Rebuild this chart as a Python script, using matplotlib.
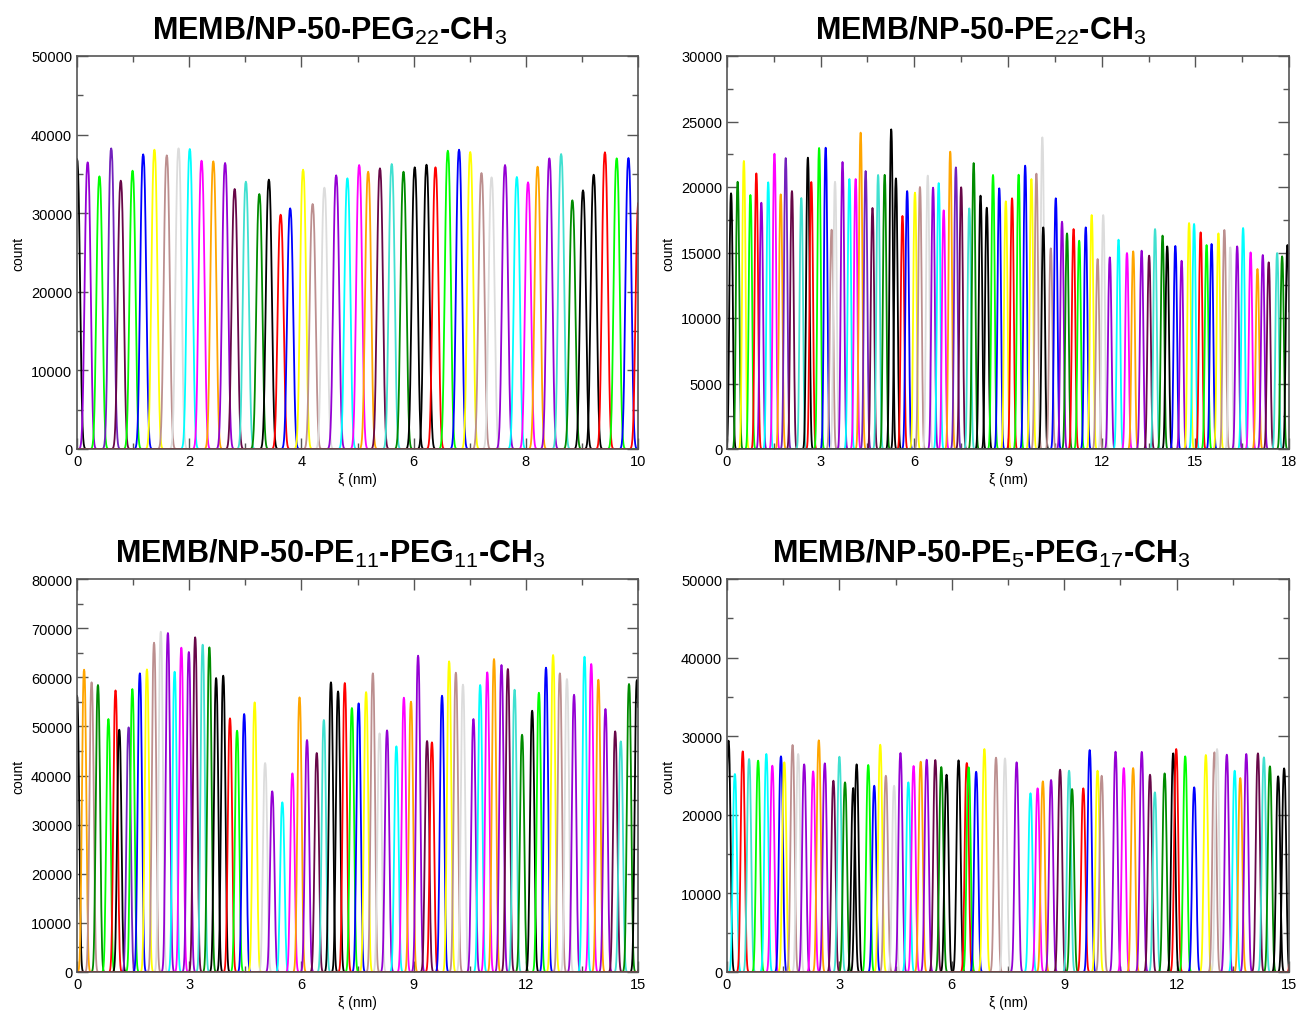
import numpy as np
import matplotlib.pyplot as plt
from matplotlib.ticker import MultipleLocator

plt.rcParams['font.family'] = ['Liberation Sans', 'DejaVu Sans']
plt.rcParams['mathtext.fontset'] = 'custom'
plt.rcParams['mathtext.rm'] = 'Liberation Sans'
plt.rcParams['mathtext.default'] = 'rm'

# xmgrace default palette
pal = {
    'k': '#000000', 'r': '#ff0000', 'g': '#00ff00', 'b': '#0000ff',
    'y': '#ffff00', 'br': '#bc8f8f', 'gr': '#dcdcdc', 'v': '#9400d3',
    'c': '#00ffff', 'm': '#ff00ff', 'o': '#ffa500', 'i': '#7221bc',
    'mr': '#670748', 't': '#40e0d0', 'g4': '#008b00',
}

# umbrella windows: histogram peak position (nm), peak count, colour
centers_peg22 = [0.00, 0.19, 0.40, 0.61, 0.78, 0.99, 1.18, 1.38, 1.60, 1.81,
                 2.01, 2.22, 2.43, 2.64, 2.81, 3.01, 3.25, 3.42, 3.63, 3.80,
                 4.03, 4.20, 4.41, 4.62, 4.82, 5.03, 5.19, 5.40, 5.61, 5.82,
                 6.02, 6.23, 6.39, 6.61, 6.81, 7.01, 7.21, 7.39, 7.63, 7.84,
                 8.04, 8.21, 8.42, 8.63, 8.83, 9.02, 9.21, 9.41, 9.62, 9.83,
                 10.01]
heights_peg22 = [36900, 36470, 34690, 38250, 34140, 35410, 37490, 38080, 37360, 38250,
                 38170, 36680, 36600, 36390, 33080, 34010, 32440, 34270, 29810, 30620,
                 35540, 31170, 33250, 34820, 34440, 36130, 35280, 35710, 36260, 35280,
                 35840, 36170, 35840, 37950, 38080, 37790, 35110, 34560, 36130, 34610,
                 33930, 35920, 36980, 37530, 31640, 32910, 34900, 37750, 36980, 37020,
                 31500]
colors_peg22 = ['k', 'v', 'g', 'i', 'mr', 'g', 'b', 'y', 'br', 'gr',
                'c', 'm', 'o', 'v', 'mr', 't', 'g4', 'k', 'r', 'b',
                'y', 'br', 'gr', 'v', 'c', 'm', 'o', 'mr', 't', 'g4',
                'k', 'k', 'r', 'g', 'b', 'y', 'br', 'gr', 'v', 'c',
                'm', 'o', 'v', 't', 'g4', 'k', 'k', 'r', 'g', 'b',
                'r']

centers_pe22 = [0.13, 0.34, 0.54, 0.75, 0.94, 1.10, 1.32, 1.52, 1.72, 1.88,
                2.08, 2.38, 2.59, 2.70, 2.95, 3.16, 3.35, 3.46, 3.70, 3.92,
                4.12, 4.28, 4.44, 4.66, 4.84, 5.05, 5.26, 5.41, 5.62, 5.77,
                6.02, 6.18, 6.43, 6.60, 6.78, 6.94, 7.15, 7.33, 7.50, 7.76,
                7.90, 8.12, 8.32, 8.52, 8.72, 8.93, 9.13, 9.34, 9.55, 9.75,
                9.91, 10.10, 10.13, 10.37, 10.53, 10.73, 10.89, 11.10, 11.28, 11.49,
                11.68, 11.87, 12.05, 12.26, 12.54, 12.81, 13.01, 13.28, 13.52, 13.71,
                13.95, 14.10, 14.36, 14.56, 14.80, 14.96, 15.17, 15.36, 15.52, 15.74,
                15.93, 16.12, 16.34, 16.53, 16.77, 16.99, 17.16, 17.35, 17.62, 17.78,
                17.95]
heights_pe22 = [19520, 20400, 21990, 19390, 21040, 18800, 20360, 22540, 19440, 22210,
                19690, 19160, 22240, 20380, 22980, 23000, 16740, 20400, 21910, 20610,
                20610, 24150, 21220, 18400, 20920, 20930, 24400, 20660, 17790, 19690,
                19570, 20000, 20870, 19950, 20300, 18220, 22700, 21500, 19980, 18370,
                21830, 19340, 18420, 20920, 19900, 18910, 19140, 20940, 21630, 20610,
                21020, 23790, 16920, 15320, 19140, 17350, 16460, 16790, 15900, 16920,
                17860, 14500, 17860, 14630, 15980, 14960, 15090, 15140, 14760, 16790,
                16290, 15470, 15500, 14370, 17250, 17180, 16540, 15570, 15650, 16460,
                16720, 15390, 15470, 16870, 15010, 13740, 14810, 14250, 14960, 14710,
                15570]
colors_pe22 = ['k', 'g4', 'y', 'g', 'r', 'v', 'c', 'm', 'o', 'i',
               'mr', 't', 'k', 'r', 'g', 'b', 'br', 'gr', 'v', 'c',
               'm', 'o', 'i', 'mr', 't', 'g4', 'k', 'k', 'r', 'b',
               'y', 'br', 'gr', 'v', 'c', 'm', 'o', 'i', 'mr', 't',
               'g4', 'k', 'k', 'g', 'b', 'y', 'r', 'g', 'b', 'y',
               'br', 'gr', 'k', 'br', 'b', 'v', 'g4', 'r', 'g', 'b',
               'y', 'br', 'gr', 'v', 'c', 'm', 'o', 'v', 'mr', 't',
               'g4', 'k', 'b', 'v', 'y', 'c', 'r', 'g', 'b', 'y',
               'br', 'gr', 'v', 'c', 'm', 'o', 'v', 'mr', 't', 'g4',
               'k']

centers_pe11 = [0.00, 0.19, 0.39, 0.56, 0.84, 1.03, 1.13, 1.38, 1.48, 1.68,
                1.87, 2.06, 2.24, 2.43, 2.61, 2.79, 2.99, 3.16, 3.36, 3.54,
                3.72, 3.91, 4.09, 4.28, 4.47, 4.75, 5.03, 5.22, 5.49, 5.76,
                5.95, 6.15, 6.41, 6.60, 6.79, 6.98, 7.16, 7.35, 7.53, 7.73,
                7.91, 8.09, 8.29, 8.54, 8.74, 8.93, 9.12, 9.36, 9.49, 9.76,
                9.95, 10.13, 10.32, 10.60, 10.78, 10.97, 11.15, 11.35, 11.52, 11.70,
                11.90, 12.17, 12.35, 12.54, 12.73, 12.91, 13.10, 13.29, 13.57, 13.75,
                13.94, 14.13, 14.39, 14.54, 14.76, 14.97, 15.15]
heights_pe11 = [56240, 61540, 58970, 58420, 51500, 57320, 49320, 49800, 57600, 60800,
                61600, 67030, 69270, 69000, 61130, 66020, 65140, 68130, 66630, 66090,
                59840, 60320, 51640, 49120, 52520, 54890, 42540, 36780, 34540, 40440,
                55910, 47220, 44580, 51300, 58970, 57120, 58830, 53740, 54690, 56980,
                60800, 48580, 49190, 45940, 55840, 55030, 64390, 47020, 46750, 56240,
                63240, 60930, 58490, 51500, 58420, 61000, 63710, 62490, 61680, 57460,
                48300, 53190, 56850, 61950, 64530, 60800, 59640, 56440, 64180, 62700,
                59500, 53540, 48990, 46950, 58630, 59430, 60000]
colors_pe11 = ['k', 'o', 'br', 'g4', 'g', 'r', 'k', 'i', 'g', 'b',
               'y', 'br', 'gr', 'v', 'c', 'm', 'v', 'mr', 't', 'g4',
               'k', 'k', 'r', 'g', 'b', 'y', 'gr', 'v', 'c', 'm',
               'o', 'v', 'mr', 't', 'k', 'k', 'r', 'g', 'b', 'y',
               'br', 'gr', 'v', 'c', 'm', 'o', 'v', 'mr', 'r', 'b',
               'y', 'br', 'gr', 'v', 'c', 'm', 'o', 'v', 'mr', 't',
               'g4', 'k', 'g', 'b', 'y', 'br', 'gr', 'v', 'c', 'm',
               'o', 'v', 'mr', 't', 'g4', 'k', 'r']

centers_pe5 = [0.04, 0.21, 0.42, 0.59, 0.83, 1.05, 1.21, 1.44, 1.53, 1.75,
               1.90, 2.06, 2.30, 2.45, 2.61, 2.84, 3.00, 3.15, 3.37, 3.46,
               3.77, 3.93, 4.09, 4.24, 4.46, 4.63, 4.84, 4.98, 5.17, 5.33,
               5.56, 5.72, 5.86, 6.18, 6.40, 6.45, 6.65, 6.87, 7.18, 7.42,
               7.73, 8.10, 8.29, 8.43, 8.65, 8.89, 9.13, 9.21, 9.51, 9.68,
               9.89, 10.00, 10.37, 10.59, 10.84, 11.07, 11.29, 11.42, 11.68, 11.91,
               11.99, 12.23, 12.47, 12.78, 13.01, 13.08, 13.34, 13.55, 13.70, 13.86,
               14.17, 14.33, 14.49, 14.71, 14.87, 15.12]
heights_pe5 = [29430, 25190, 28070, 27100, 26890, 27740, 26250, 27440, 26680, 28880,
               27740, 26420, 25530, 29480, 26550, 24340, 27390, 24130, 23410, 26420,
               26340, 23700, 28920, 24970, 23700, 27860, 24130, 26210, 26760, 27010,
               26970, 26080, 25100, 26930, 26590, 26040, 25480, 28370, 27270, 27180,
               26680, 22740, 23370, 24260, 24430, 25740, 25610, 23280, 23370, 28240,
               25610, 24970, 28030, 25950, 25950, 28010, 25100, 22860, 25270, 27820,
               28370, 27440, 23500, 27610, 27950, 28370, 27650, 25610, 24680, 27740,
               27820, 27310, 26170, 24900, 25910, 30000]
colors_pe5 = ['k', 'c', 'r', 't', 'g', 'c', 'm', 'b', 'y', 'br',
              'gr', 'v', 'm', 'o', 'v', 'mr', 't', 'g4', 'k', 'k',
              'g', 'b', 'y', 'br', 'gr', 'v', 'c', 'm', 'o', 'v',
              'mr', 'g4', 'k', 'k', 'r', 'g', 'b', 'y', 'br', 'gr',
              'v', 'c', 'm', 'o', 'v', 'mr', 't', 'g4', 'r', 'b',
              'y', 'br', 'v', 'm', 'o', 'v', 'mr', 't', 'g4', 'k',
              'r', 'g', 'b', 'y', 'br', 'gr', 'v', 'c', 'o', 'v',
              'mr', 't', 'g4', 'k', 'k', 'r']

panels = [
    dict(title='MEMB/NP-50-PEG$_{22}$-CH$_3$', centers=centers_peg22,
         heights=heights_peg22, colors=colors_peg22, width=0.052,
         xmax=10, ymax=50000, xmaj=2, xmin=1, ymaj=10000, ymin=5000),
    dict(title='MEMB/NP-50-PE$_{22}$-CH$_3$', centers=centers_pe22,
         heights=heights_pe22, colors=colors_pe22, width=0.055,
         xmax=18, ymax=30000, xmaj=3, xmin=1.5, ymaj=5000, ymin=2500),
    dict(title='MEMB/NP-50-PE$_{11}$-PEG$_{11}$-CH$_3$', centers=centers_pe11,
         heights=heights_pe11, colors=colors_pe11, width=0.058,
         xmax=15, ymax=80000, xmaj=3, xmin=1.5, ymaj=10000, ymin=5000),
    dict(title='MEMB/NP-50-PE$_{5}$-PEG$_{17}$-CH$_3$', centers=centers_pe5,
         heights=heights_pe5, colors=colors_pe5, width=0.055,
         xmax=15, ymax=50000, xmaj=3, xmin=1.5, ymaj=10000, ymin=5000),
]

W, H = 1301, 1012
fig = plt.figure(figsize=(W / 100, H / 100), dpi=100)

# axes boxes in pixels: left, top, right, bottom
boxes = [(77, 57, 638, 450), (727, 57, 1289, 450),
         (77, 580, 638, 973), (727, 580, 1289, 973)]
title_pos = [(330, 40), (981, 40), (330, 563), (981, 563)]
frame = '#555555'

for p, (l, t, r, b), (tx, ty) in zip(panels, boxes, title_pos):
    ax = fig.add_axes([l / W, 1 - b / H, (r - l) / W, (b - t) / H])
    x = np.arange(-0.5, p['xmax'] + 0.5, 0.01)
    for c0, h, col in zip(p['centers'], p['heights'], p['colors']):
        # window histogram: pointed top, steep flanks
        yv = h * np.exp(-0.5 * (np.abs(x - c0) / p['width']) ** 2.5)
        ax.plot(x, yv, color=pal[col], lw=1.3)
    ax.set_xlim(0, p['xmax'])
    ax.set_ylim(0, p['ymax'])
    ax.xaxis.set_major_locator(MultipleLocator(p['xmaj']))
    ax.xaxis.set_minor_locator(MultipleLocator(p['xmin']))
    ax.yaxis.set_major_locator(MultipleLocator(p['ymaj']))
    ax.yaxis.set_minor_locator(MultipleLocator(p['ymin']))
    ax.tick_params(which='both', direction='in', top=True, right=True,
                   color=frame, width=1, labelsize=10.5, pad=3.5)
    ax.tick_params(which='major', length=8)
    ax.tick_params(which='minor', length=4.5)
    for s in ax.spines.values():
        s.set_color(frame)
        s.set_linewidth(1.2)
    ax.set_xlabel('ξ (nm)', fontsize=10, labelpad=3)
    ax.set_ylabel('count', fontsize=10)
    ax.yaxis.set_label_coords(-0.092, 0.5)
    fig.text(tx / W, 1 - ty / H, p['title'], fontsize=22, fontweight='bold',
             ha='center', va='baseline')

fig.savefig('out.png', dpi=100)
